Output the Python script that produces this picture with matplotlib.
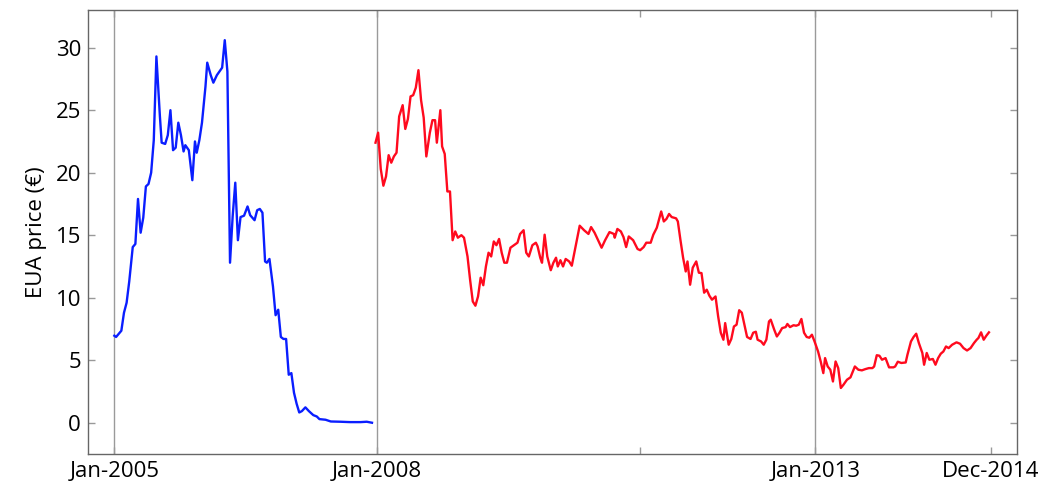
import numpy as np
import matplotlib
matplotlib.use("Agg")
import matplotlib.pyplot as plt

plt.rcParams['font.family'] = ['Open Sans', 'DejaVu Sans']

# time axis in years since Jan-2005
phase1_t = [0.00, 0.02, 0.08, 0.11, 0.14, 0.17, 0.21, 0.24, 0.27, 0.30, 0.33, 0.36, 0.39, 0.42,
            0.45, 0.48, 0.52, 0.54, 0.58, 0.61, 0.64, 0.67, 0.70, 0.73, 0.76, 0.79, 0.81, 0.85,
            0.89, 0.92, 0.94, 0.97, 1.00, 1.04, 1.06, 1.10, 1.13, 1.17, 1.21, 1.23, 1.26, 1.29,
            1.32, 1.35, 1.38, 1.41, 1.44, 1.48, 1.52, 1.55, 1.60, 1.63, 1.66, 1.69, 1.72, 1.74,
            1.77, 1.81, 1.84, 1.87, 1.90, 1.93, 1.96, 1.99, 2.02, 2.05, 2.08, 2.11, 2.14, 2.18,
            2.22, 2.27, 2.31, 2.34, 2.41, 2.47, 2.58, 2.69, 2.81, 2.88, 2.94]
phase1_price = [6.96, 6.86, 7.36, 8.8, 9.6, 11.3, 14.05, 14.3, 17.9, 15.2, 16.4, 18.9, 19.1, 20.0,
                22.6, 29.3, 24.5, 22.4, 22.3, 23.0, 25.0, 21.8, 22.0, 24.0, 23.0, 21.7, 22.2, 21.8,
                19.4, 22.5, 21.6, 22.6, 24.0, 26.9, 28.8, 27.8, 27.2, 27.8, 28.2, 28.4, 30.6, 28.1,
                12.8, 16.5, 19.2, 14.6, 16.45, 16.56, 17.3, 16.6, 16.2, 17.0, 17.1, 16.8, 12.9, 12.8,
                13.1, 10.9, 8.6, 9.04, 6.86, 6.7, 6.7, 3.84, 3.97, 2.4, 1.52, 0.82, 0.93, 1.23,
                0.93, 0.61, 0.5, 0.29, 0.24, 0.1, 0.08, 0.05, 0.05, 0.08, 0.0]

phase23_t = [2.98, 3.01, 3.04, 3.07, 3.10, 3.13, 3.16, 3.19, 3.22, 3.25, 3.29, 3.32, 3.35, 3.38,
             3.41, 3.44, 3.47, 3.50, 3.53, 3.56, 3.60, 3.63, 3.66, 3.68, 3.72, 3.74, 3.77, 3.80,
             3.83, 3.86, 3.89, 3.92, 3.96, 3.99, 4.03, 4.06, 4.09, 4.12, 4.15, 4.18, 4.21, 4.24,
             4.27, 4.30, 4.33, 4.36, 4.39, 4.42, 4.45, 4.48, 4.52, 4.56, 4.60, 4.63, 4.67, 4.70,
             4.73, 4.77, 4.81, 4.83, 4.86, 4.88, 4.91, 4.94, 4.98, 5.01, 5.04, 5.06, 5.09, 5.12,
             5.15, 5.19, 5.22, 5.26, 5.31, 5.36, 5.41, 5.44, 5.48, 5.52, 5.56, 5.60, 5.65, 5.70,
             5.71, 5.74, 5.78, 5.81, 5.84, 5.87, 5.92, 5.97, 6.00, 6.04, 6.07, 6.12, 6.15, 6.19,
             6.24, 6.27, 6.30, 6.33, 6.36, 6.41, 6.43, 6.46, 6.49, 6.52, 6.54, 6.57, 6.60, 6.64,
             6.67, 6.70, 6.73, 6.76, 6.79, 6.82, 6.86, 6.89, 6.92, 6.95, 6.97, 7.01, 7.04, 7.07,
             7.10, 7.13, 7.16, 7.19, 7.22, 7.26, 7.29, 7.32, 7.34, 7.38, 7.41, 7.44, 7.47, 7.49,
             7.53, 7.56, 7.59, 7.62, 7.66, 7.68, 7.71, 7.75, 7.78, 7.81, 7.84, 7.87, 7.90, 7.93,
             7.96, 7.99, 8.03, 8.06, 8.09, 8.11, 8.14, 8.17, 8.20, 8.23, 8.26, 8.29, 8.32, 8.36,
             8.40, 8.45, 8.49, 8.53, 8.57, 8.61, 8.65, 8.67, 8.70, 8.73, 8.76, 8.80, 8.84, 8.89,
             8.91, 8.94, 8.98, 9.03, 9.05, 9.09, 9.12, 9.15, 9.18, 9.22, 9.24, 9.27, 9.30, 9.34,
             9.37, 9.40, 9.43, 9.46, 9.49, 9.52, 9.56, 9.61, 9.65, 9.69, 9.73, 9.77, 9.81, 9.84,
             9.86, 9.89, 9.92, 9.95, 9.98]
phase23_price = [22.4, 23.2, 20.3, 18.96, 19.7, 21.4, 20.8, 21.3, 21.6, 24.5, 25.4, 23.5, 24.3, 26.1,
                 26.2, 26.8, 28.2, 25.8, 24.4, 21.3, 23.2, 24.2, 24.2, 22.4, 25.0, 22.1, 21.5, 18.5,
                 18.5, 14.6, 15.3, 14.8, 15.0, 14.8, 13.3, 11.4, 9.7, 9.36, 10.1, 11.6, 11.0, 12.5,
                 13.6, 13.3, 14.5, 14.2, 14.7, 13.6, 12.8, 12.8, 14.0, 14.2, 14.4, 15.1, 15.4, 13.6,
                 13.3, 14.2, 14.4, 14.1, 13.2, 12.8, 15.04, 13.3, 12.2, 12.8, 13.2, 12.5, 13.0, 12.5,
                 13.1, 12.9, 12.56, 14.0, 15.76, 15.4, 15.1, 15.65, 15.2, 14.6, 14.0, 14.6, 15.25, 15.1,
                 14.8, 15.5, 15.3, 14.85, 14.05, 14.9, 14.6, 13.9, 13.8, 14.05, 14.4, 14.4, 15.04, 15.6,
                 16.9, 16.1, 16.3, 16.7, 16.45, 16.35, 16.1, 14.6, 13.2, 12.1, 12.9, 11.04, 12.4, 12.9,
                 12.0, 11.97, 10.4, 10.64, 10.16, 9.84, 10.1, 8.5, 7.2, 6.64, 7.97, 6.24, 6.7, 7.7,
                 7.84, 9.0, 8.8, 7.84, 6.86, 6.7, 7.2, 7.28, 6.64, 6.5, 6.24, 6.64, 8.1, 8.24,
                 7.44, 6.9, 7.2, 7.57, 7.65, 7.9, 7.65, 7.8, 7.76, 7.84, 8.3, 7.2, 6.86, 6.8,
                 7.04, 6.5, 5.7, 4.9, 3.97, 5.17, 4.5, 4.24, 3.3, 4.9, 4.37, 2.78, 3.04, 3.44,
                 3.63, 4.5, 4.24, 4.19, 4.29, 4.37, 4.37, 4.5, 5.4, 5.36, 5.04, 5.17, 4.43, 4.43,
                 4.5, 4.88, 4.78, 4.82, 5.44, 6.5, 6.86, 7.12, 6.38, 5.58, 4.64, 5.58, 5.04, 5.1,
                 4.64, 5.17, 5.52, 5.7, 6.1, 5.97, 6.24, 6.43, 6.32, 5.97, 5.78, 5.97, 6.38, 6.64,
                 6.78, 7.23, 6.64, 6.96, 7.23]

phase_starts = [0, 3, 8]
tick_pos = [0, 3, 6, 8, 10]
tick_labels = ['Jan-2005', 'Jan-2008', '', 'Jan-2013', 'Dec-2014']
y_ticks = [0, 5, 10, 15, 20, 25, 30]

fig = plt.figure(figsize=(10.42, 4.84), dpi=100)
ax = fig.add_axes([0.0845, 0.062, 0.8915, 0.917])

for xs in phase_starts:
    ax.axvline(xs, color='#9a9a9a', lw=1.0, zorder=1)

ax.plot(phase1_t, phase1_price, color='#0a1eff', lw=1.7, zorder=3)
ax.plot(phase23_t, phase23_price, color='#ff0a1e', lw=1.7, zorder=3)

ax.set_xlim(-0.3, 10.3)
ax.set_ylim(-2.5, 33)
ax.set_xticks(tick_pos)
ax.set_xticklabels(tick_labels)
ax.set_yticks(y_ticks)

ax.tick_params(direction='in', length=5, width=1, color='#999999', labelsize=16,
               labelcolor='black', top=True, right=True, pad=5)
for s in ax.spines.values():
    s.set_color('#666666')
    s.set_linewidth(1.0)

ax.set_ylabel('EUA price (€)', fontsize=16, labelpad=6)

fig.savefig('out.png', dpi=100)
